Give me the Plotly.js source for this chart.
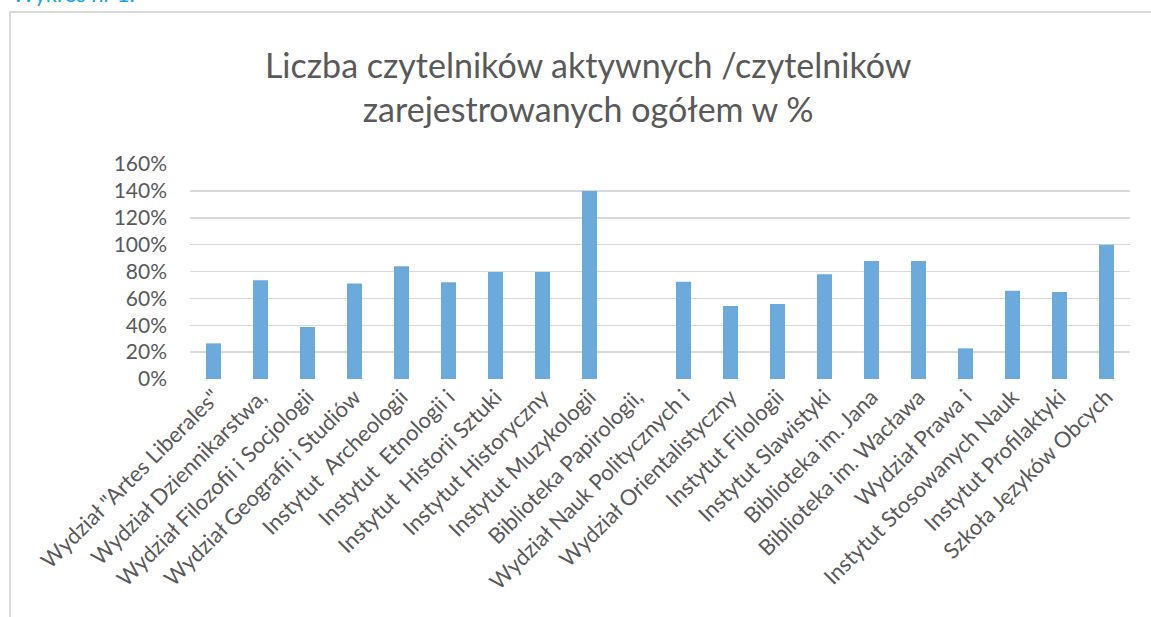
<!DOCTYPE html>
<html>
<head>
<meta charset="utf-8">
<script src="https://cdn.plot.ly/plotly-3.0.1.min.js"></script>
<style>
  html, body { margin: 0; padding: 0; background: #ffffff; overflow: hidden; }
  #frame { position: absolute; left: 9px; top: 11px; width: 1300px; height: 800px;
           border: 2px solid #d9d9d9; box-sizing: border-box; }
  #caption { position: absolute; left: 12px; top: -20px; font-family: Lato, sans-serif;
             font-size: 22px; color: #1ba1e2; white-space: nowrap; }
  #chart { position: absolute; left: 0; top: 0; width: 1151px; height: 617px; }
</style>
</head>
<body>
<div id="frame"></div>
<div id="caption">Wykres nr 1.</div>
<div id="chart"></div>
<script>
const categories = [
  'Wydział "Artes Liberales"',
  'Wydział Dziennikarstwa,',
  'Wydział Filozofii i Socjologii',
  'Wydział Geografii i Studiów',
  'Instytut\u00a0 Archeologii',
  'Instytut\u00a0 Etnologii i',
  'Instytut\u00a0 Historii Sztuki',
  'Instytut Historyczny',
  'Instytut Muzykologii',
  'Biblioteka Papirologii,',
  'Wydział Nauk Politycznych i',
  'Wydział Orientalistyczny',
  'Instytut Filologii',
  'Instytut Slawistyki',
  'Biblioteka im. Jana',
  'Biblioteka im. Wacława',
  'Wydział Prawa i',
  'Instytut Stosowanych Nauk',
  'Instytut Profilaktyki',
  'Szkoła Języków Obcych'
];
const values = [0.265, 0.735, 0.387, 0.71, 0.84, 0.72, 0.796, 0.796, 1.40, 0,
                0.724, 0.543, 0.558, 0.78, 0.878, 0.878, 0.228, 0.657, 0.647, 1.00];
const tickValues = [0, 0.2, 0.4, 0.6, 0.8, 1.0, 1.2, 1.4, 1.6];
const tickLabels = ['0%', '20%', '40%', '60%', '80%', '100%', '120%', '140%', '160%'];

const trace = {
  type: 'bar',
  x: categories,
  y: values,
  marker: { color: '#6caadb', line: { width: 0 } },
  hoverinfo: 'x+y'
};

const layout = {
  width: 1151, height: 617,
  margin: { l: 190, r: 21, t: 164, b: 238 },
  paper_bgcolor: 'rgba(0,0,0,0)',
  plot_bgcolor: 'rgba(0,0,0,0)',
  bargap: 0.68,
  showlegend: false,
  font: { family: 'Lato, sans-serif', color: '#595959' },
  title: {
    text: 'Liczba czytelników aktywnych /czytelników<br>zarejestrowanych ogółem w %',
    font: { family: 'Lato, sans-serif', size: 34, color: '#595959' },
    x: 0.511, xanchor: 'center',
    y: 0.874, yanchor: 'middle'
  },
  xaxis: {
    type: 'category',
    tickangle: -45,
    tickfont: { size: 22, color: '#595959' },
    showgrid: false,
    showline: false,
    zeroline: false,
    ticks: ''
  },
  yaxis: {
    range: [0, 1.6],
    tickvals: tickValues,
    ticktext: tickLabels,
    tickfont: { size: 21, color: '#595959' },
    ticklabelstandoff: 22,
    showgrid: true,
    gridcolor: '#d9d9d9',
    gridwidth: 1.5,
    zeroline: false,
    showline: false,
    ticks: ''
  }
};

Plotly.newPlot('chart', [trace], layout, { displayModeBar: false, staticPlot: true });
</script>
</body>
</html>
